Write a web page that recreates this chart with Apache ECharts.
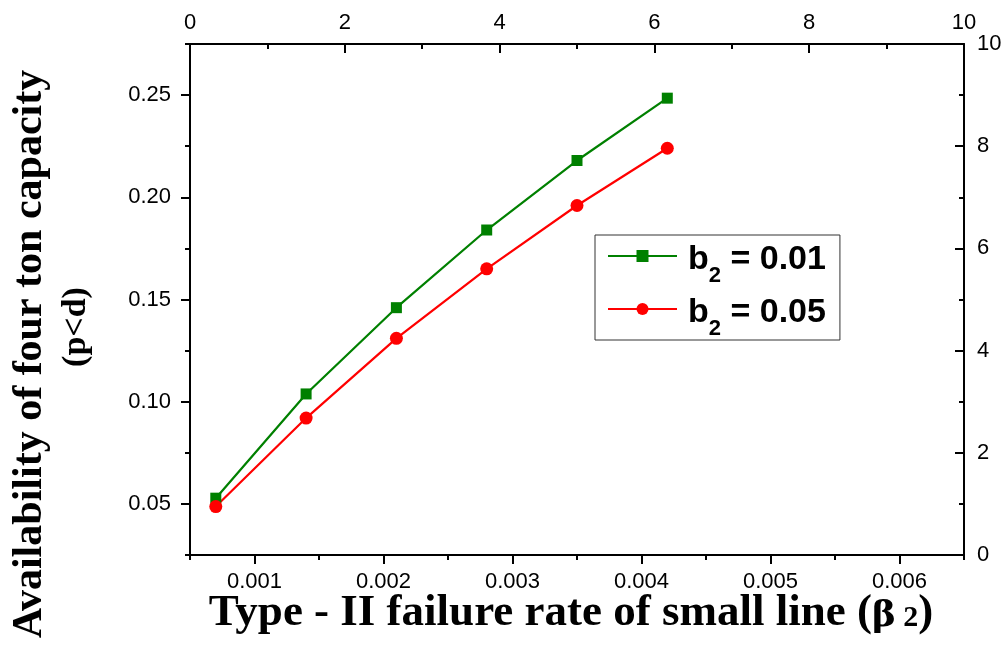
<!DOCTYPE html>
<html>
<head>
<meta charset="utf-8">
<script src="https://cdn.jsdelivr.net/npm/echarts@6/dist/echarts.min.js"></script>
<style>
  html, body { margin: 0; padding: 0; background: #fff; }
  #chart { width: 1004px; height: 646px; }
</style>
</head>
<body>
<div id="chart"></div>
<script>
// Type-II failure rate of the small line (beta_2)
const beta2 = [0.0007, 0.0014, 0.0021, 0.0028, 0.0035, 0.0042];
// Availability of four ton capacity (p<d) for each b2 setting
const availB001 = [0.0528, 0.1038, 0.146, 0.184, 0.218, 0.2485];
const availB005 = [0.0487, 0.092, 0.131, 0.165, 0.196, 0.224];
const seriesNames = ['b2 = 0.01', 'b2 = 0.05'];

// Tick positions
const bottomMajor = [0.001, 0.002, 0.003, 0.004, 0.005, 0.006];
const bottomMinor = [0.0005, 0.0015, 0.0025, 0.0035, 0.0045, 0.0055, 0.0065];
const leftMajor = [0.05, 0.10, 0.15, 0.20, 0.25];
const leftMinor = [0.025, 0.075, 0.125, 0.175, 0.225, 0.275];

const tickFont = { fontFamily: 'Liberation Sans, Arial, sans-serif', fontSize: 22, color: '#000' };
const axisLine = { show: true, onZero: false, lineStyle: { color: '#000', width: 2 } };
const noSplit = { show: false };

const chart = echarts.init(document.getElementById('chart'), null, { renderer: 'canvas' });

// legend label: "b" with a lowered "2", then the value
const legendRich = {
  b: { fontFamily: 'Liberation Sans, Arial, sans-serif', fontWeight: 'bold', fontSize: 34, color: '#000', lineHeight: 36, verticalAlign: 'top', padding: [5, 0, 0, 0] },
  s: { fontFamily: 'Liberation Sans, Arial, sans-serif', fontWeight: 'bold', fontSize: 22, color: '#000', lineHeight: 21, verticalAlign: 'top', padding: [27, 0, 0, 0] }
};

const option = {
  animation: false,
  backgroundColor: '#fff',
  grid: { left: 190, right: 40, top: 44, bottom: 91, containLabel: false, outerBoundsMode: 'none' },
  xAxis: [
    {
      type: 'value', position: 'bottom', min: 0.0005, max: 0.0065,
      axisLine: axisLine,
      axisTick: { show: true, customValues: bottomMajor, length: 9, lineStyle: { color: '#000', width: 2 } },
      axisLabel: Object.assign({ show: true, customValues: bottomMajor, margin: 16, formatter: v => v.toFixed(3) }, tickFont),
      splitLine: noSplit
    },
    {
      type: 'value', position: 'bottom', min: 0.0005, max: 0.0065,
      axisLine: { show: false },
      axisTick: { show: true, customValues: bottomMinor, length: 5, lineStyle: { color: '#000', width: 2 } },
      axisLabel: { show: false },
      splitLine: noSplit
    },
    {
      type: 'value', position: 'top', min: 0, max: 10, interval: 2,
      axisLine: axisLine,
      axisTick: { show: true, inside: true, length: 9, lineStyle: { color: '#000', width: 2 } },
      minorTick: { show: true, splitNumber: 2, length: 5, lineStyle: { color: '#000', width: 2 } },
      axisLabel: Object.assign({ show: true, margin: 10 }, tickFont),
      splitLine: noSplit, minorSplitLine: noSplit
    }
  ],
  yAxis: [
    {
      type: 'value', position: 'left', min: 0.025, max: 0.275,
      axisLine: axisLine,
      axisTick: { show: true, customValues: leftMajor, length: 9, lineStyle: { color: '#000', width: 2 } },
      axisLabel: Object.assign({ show: true, customValues: leftMajor, margin: 19, formatter: v => v.toFixed(2) }, tickFont),
      splitLine: noSplit
    },
    {
      type: 'value', position: 'left', min: 0.025, max: 0.275,
      axisLine: { show: false },
      axisTick: { show: true, customValues: leftMinor, length: 5, lineStyle: { color: '#000', width: 2 } },
      axisLabel: { show: false },
      splitLine: noSplit
    },
    {
      type: 'value', position: 'right', min: 0, max: 10, interval: 2,
      axisLine: axisLine,
      axisTick: { show: true, inside: true, length: 9, lineStyle: { color: '#000', width: 2 } },
      minorTick: { show: true, splitNumber: 2, length: 5, lineStyle: { color: '#000', width: 2 } },
      axisLabel: Object.assign({ show: true, margin: 13 }, tickFont),
      splitLine: noSplit, minorSplitLine: noSplit
    }
  ],
  legend: {
    left: 595, top: 235,
    orient: 'vertical',
    data: seriesNames,
    backgroundColor: '#fff',
    borderColor: '#333', borderWidth: 1, borderRadius: 0,
    padding: [3, 14, 0, 12],
    itemGap: 4,
    itemWidth: 69, itemHeight: 15,
    selectedMode: false,
    formatter: name => '{b|b}{s|2}{b|' + name.slice(2) + '}',
    textStyle: { rich: legendRich, padding: [0, 0, 0, 6] }
  },
  series: [
    {
      name: seriesNames[0], type: 'line', xAxisIndex: 0, yAxisIndex: 0,
      data: beta2.map((x, i) => [x, availB001[i]]),
      symbol: 'rect', symbolSize: 11,
      itemStyle: { color: '#008000' },
      lineStyle: { color: '#008000', width: 2.2 }
    },
    {
      name: seriesNames[1], type: 'line', xAxisIndex: 0, yAxisIndex: 0,
      data: beta2.map((x, i) => [x, availB005[i]]),
      symbol: 'circle', symbolSize: 13,
      itemStyle: { color: '#ff0000' },
      lineStyle: { color: '#ff0000', width: 2.2 }
    }
  ],
  graphic: [
    {
      type: 'text', x: 571, y: 613,
      style: {
        text: '{t|Type - II failure rate of small line (}{g|β}{s| 2}{t|)}',
        align: 'center', verticalAlign: 'middle',
        rich: {
          t: { fontFamily: 'Liberation Serif, Times New Roman, serif', fontWeight: 'bold', fontSize: 45, color: '#000', lineHeight: 46, verticalAlign: 'middle' },
          g: { fontFamily: 'DejaVu Serif, serif', fontWeight: 'bold', fontSize: 36, color: '#000', lineHeight: 46, verticalAlign: 'middle', padding: [8, 0, 0, 0] },
          s: { fontFamily: 'Liberation Serif, Times New Roman, serif', fontWeight: 'bold', fontSize: 30, color: '#000', lineHeight: 46, verticalAlign: 'middle', padding: [10, 0, 0, 0] }
        }
      }
    },
    {
      type: 'text', x: 30, y: 354, rotation: Math.PI / 2,
      style: {
        text: 'Availability of four ton capacity',
        align: 'center', verticalAlign: 'middle',
        font: 'bold 42px "Liberation Serif", "Times New Roman", serif',
        fill: '#000'
      }
    },
    {
      type: 'text', x: 76, y: 327, rotation: Math.PI / 2,
      style: {
        text: '(p<d)',
        align: 'center', verticalAlign: 'middle',
        font: 'bold 34px "Liberation Serif", "Times New Roman", serif',
        fill: '#000'
      }
    }
  ]
};

chart.setOption(option);
</script>
</body>
</html>
